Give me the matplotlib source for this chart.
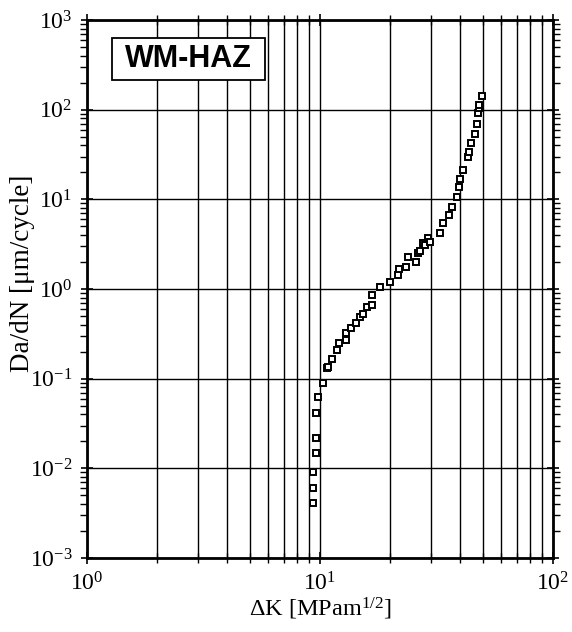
import numpy as np
import matplotlib
matplotlib.use('Agg')
import matplotlib.pyplot as plt
from matplotlib.patches import Rectangle
from matplotlib.ticker import LogLocator, NullFormatter

plt.rcParams['font.family'] = 'Liberation Serif'
plt.rcParams['mathtext.fontset'] = 'custom'
plt.rcParams['mathtext.rm'] = 'Liberation Serif'
plt.rcParams['mathtext.it'] = 'Liberation Serif:italic'

# crack growth data
dK = [9.33, 9.33, 9.33, 9.6, 9.6, 9.6, 9.8, 10.3, 10.7, 10.8, 11.3, 11.8, 12.1,
      12.9, 12.9, 13.6, 14.3, 14.8, 15.3, 15.9, 16.7, 16.7, 18.1, 20.0, 21.6,
      21.8, 23.4, 23.9, 25.8, 26.3, 26.9, 27.7, 28.2, 29.1, 29.7, 32.7, 33.7,
      35.8, 36.9, 38.7, 39.5, 39.8, 41.1, 43.2, 43.4, 44.5, 46.3, 47.2, 47.6,
      47.9, 48.2, 49.6]
dadn = [0.0041, 0.006, 0.0091, 0.0148, 0.022, 0.041, 0.062, 0.089, 0.131,
        0.134, 0.166, 0.208, 0.249, 0.269, 0.322, 0.366, 0.417, 0.486, 0.525,
        0.628, 0.662, 0.855, 1.05, 1.19, 1.43, 1.67, 1.75, 2.27, 2.0, 2.51,
        2.65, 3.25, 3.08, 3.69, 3.33, 4.2, 5.4, 6.7, 8.2, 10.6, 13.7, 16.8,
        21.2, 29.5, 33.6, 42.4, 53, 69, 91, 104, 112, 141]

fig = plt.figure(figsize=(5.72, 6.32), dpi=100)
ax = fig.add_axes([0.1521, 0.1171, 0.8147, 0.8513])

ax.plot(dK, dadn, ls='none', marker='s', ms=4.8, mfc='white', mec='black', mew=1.4)

ax.set_xscale('log')
ax.set_yscale('log')
ax.set_xlim(1, 100)
ax.set_ylim(1e-3, 1e3)

ax.xaxis.set_major_locator(LogLocator(base=10, numticks=10))
ax.xaxis.set_minor_locator(LogLocator(base=10, subs=np.arange(2, 10), numticks=20))
ax.yaxis.set_major_locator(LogLocator(base=10, numticks=10))
ax.yaxis.set_minor_locator(LogLocator(base=10, subs=np.arange(2, 10), numticks=20))
ax.xaxis.set_minor_formatter(NullFormatter())
ax.yaxis.set_minor_formatter(NullFormatter())

ax.xaxis.grid(True, which='both', color='black', lw=1)
ax.yaxis.grid(True, which='major', color='black', lw=1)
ax.set_axisbelow(True)

ax.tick_params(which='major', direction='inout', length=9, width=1.2,
               top=True, right=True, labelsize=17, pad=6)
ax.tick_params(axis='y', which='minor', direction='out', length=5, width=1,
               left=True, right=True)
ax.tick_params(axis='x', which='minor', direction='inout', length=7, width=1,
               top=True, bottom=True)

for s in ax.spines.values():
    s.set_linewidth(2)

ax.set_xlabel(r'$\Delta$K [MPam$^{\mathregular{1/2}}$]', fontsize=17.5, labelpad=0)
ax.set_ylabel('Da/dN [\u03bcm/cycle]', fontsize=19.5)
ax.yaxis.set_label_coords(-0.112, 0.53)

# label box
ax.add_patch(Rectangle((0.0536, 0.8885), 0.3284, 0.078, transform=ax.transAxes,
                       fc='white', ec='black', lw=1.3, zorder=5))
ax.text(0.218, 0.9275, 'WM-HAZ', transform=ax.transAxes, ha='center', va='center',
        fontsize=22, fontweight='bold', family='Liberation Sans', zorder=6)

fig.savefig('out.png', dpi=100)
